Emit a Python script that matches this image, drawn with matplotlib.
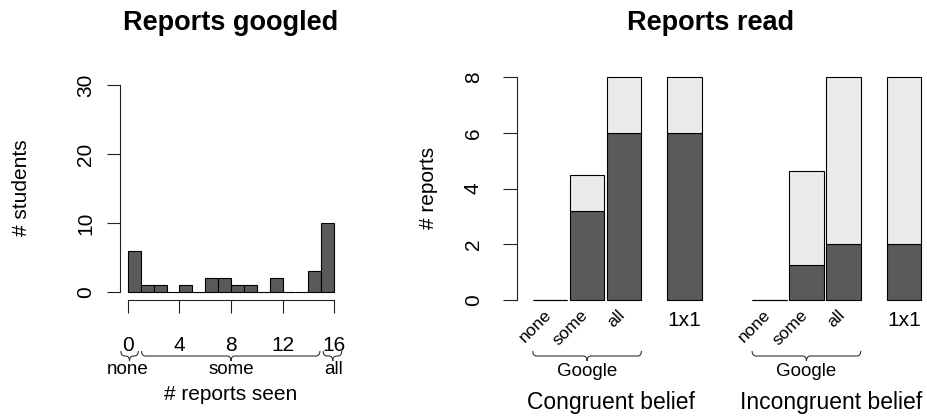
import matplotlib
matplotlib.use('Agg')
import matplotlib.pyplot as plt
from matplotlib.path import Path
from matplotlib.patches import PathPatch
from matplotlib.transforms import Affine2D
import numpy as np

plt.rcParams['font.family'] = ['Liberation Sans', 'DejaVu Sans']

W, H = 927, 416

# Reports googled: students per number of reports seen (bins of width 1)
bin_left = list(range(0, 16))
student_counts = [6, 1, 1, 0, 1, 0, 2, 2, 1, 1, 0, 2, 0, 0, 3, 10]
hist_ticks = [0, 4, 8, 12, 16]
hist_yticks = [0, 10, 20, 30]
seen_groups = ['none', 'some', 'all']
seen_group_at = [0, 8, 16]

# Reports read: dark part and full bar height
bar_labels = ['none', 'some', 'all', '1x1', 'none', 'some', 'all', '1x1']
read_dark = [0, 3.2, 6, 6, 0, 1.25, 2, 2]
read_total = [0, 4.5, 8, 8, 0, 4.62, 8, 8]
read_yticks = [0, 2, 4, 6, 8]
belief_groups = ['Congruent belief', 'Incongruent belief']

DARK = '#5a5a5a'
LIGHT = '#ebebeb'

fig = plt.figure(figsize=(W / 100, H / 100), dpi=100)
PX = Affine2D().scale(1, -1).translate(0, H)  # pixel coords, origin top-left


def add_axes_px(l, t, r, b):
    return fig.add_axes([l / W, 1 - b / H, (r - l) / W, (b - t) / H])


def brace(x0, x1, xtip, ytop, h, r=4):
    ym = ytop + h / 2
    yt = ytop + h
    verts = [(x0, ytop), (x0, ym), (x0 + r, ym), (xtip - r, ym),
             (xtip, ym), (xtip, yt), (xtip, ym), (xtip + r, ym),
             (x1 - r, ym), (x1, ym), (x1, ytop)]
    codes = [Path.MOVETO, Path.CURVE3, Path.CURVE3, Path.LINETO,
             Path.CURVE3, Path.CURVE3, Path.CURVE3, Path.CURVE3,
             Path.LINETO, Path.CURVE3, Path.CURVE3]
    fig.add_artist(PathPatch(Path(verts, codes), transform=PX, fill=False,
                             lw=0.8, edgecolor='#333333'))


def txt(x, y, s, **kw):
    fig.text(x, y, s, transform=PX, ha='center', va='center', **kw)


# ---------- left panel: histogram ----------
ax1 = add_axes_px(119.7, 76.7, 342.3, 300.3)
ax1.bar(bin_left, student_counts, width=1, align='edge', color=DARK,
        edgecolor='black', linewidth=0.8)
ax1.set_xlim(-0.64, 16.64)
ax1.set_ylim(-1.2, 31.2)
for s in ['top', 'right']:
    ax1.spines[s].set_visible(False)
ax1.spines['left'].set_bounds(0, 30)
ax1.spines['bottom'].set_bounds(0, 16)
for s in ['left', 'bottom']:
    ax1.spines[s].set_color('#222222')
    ax1.spines[s].set_linewidth(0.8)
ax1.set_yticks(hist_yticks)
ax1.set_yticklabels([str(v) for v in hist_yticks], rotation=90, va='center')
ax1.set_xticks(hist_ticks)
ax1.set_xticklabels([str(v) for v in hist_ticks])
ax1.tick_params(axis='y', direction='out', length=9.5, width=0.8,
                color='#222222', labelsize=15, pad=8)
ax1.tick_params(axis='x', direction='out', length=9.5, width=0.8,
                color='#222222', labelsize=15, pad=16)

tx = lambda ax, x: ax.transData.transform((x, 0))[0]
brace(tx(ax1, -0.55), tx(ax1, 0.8), tx(ax1, 0.12), 351, 10)
brace(tx(ax1, 1.05), tx(ax1, 14.9), tx(ax1, 8), 351, 10)
brace(tx(ax1, 15.15), tx(ax1, 16.6), tx(ax1, 15.9), 351, 10)
for name, at in zip(seen_groups, seen_group_at):
    txt(tx(ax1, at), 370, name, fontsize=13.5)
txt(231, 395, '# reports seen', fontsize=15)
txt(22, 188, '# students', fontsize=15, rotation=90)
txt(231, 23, 'Reports googled', fontsize=19.5, fontweight='bold')

# ---------- right panel: stacked bars ----------
spaces = [0.075, 0.075, 0.75, 1.46, 0.075, 0.075, 0.75]
centers = np.cumsum([0] + [1 + s for s in spaces])
ax2 = add_axes_px(517, 68, 927, 309)
ax2.bar(centers, read_dark, width=1, color=DARK, edgecolor='black',
        linewidth=0.8)
ax2.bar(centers, np.array(read_total) - np.array(read_dark), width=1,
        bottom=read_dark, color=LIGHT, edgecolor='black', linewidth=0.8)
ax2.set_xlim(centers[0] - 0.957, centers[0] + 10.93)
ax2.set_ylim(-0.32, 8.32)
for s in ['top', 'right', 'bottom']:
    ax2.spines[s].set_visible(False)
ax2.spines['left'].set_bounds(0, 8)
ax2.spines['left'].set_color('#222222')
ax2.spines['left'].set_linewidth(0.8)
ax2.set_xticks([])
ax2.set_yticks(read_yticks)
ax2.set_yticklabels([str(v) for v in read_yticks], rotation=90, va='center')
ax2.tick_params(axis='y', direction='out', length=10, width=0.8,
                color='#222222', labelsize=15, pad=14.5)

cx = [tx(ax2, c) for c in centers]
for i, lab in enumerate(bar_labels):
    if lab == '1x1':
        txt(cx[i], 320, lab, fontsize=15)
    else:
        fig.text(cx[i] + 4, 307, lab, transform=PX, ha='right', va='top',
                 rotation=45, fontsize=12.5)
half = tx(ax2, 0.5) - tx(ax2, 0)
for g, name in enumerate(belief_groups):
    idx = list(range(4 * g, 4 * g + 4))
    brace(cx[idx[0]] - half, cx[idx[2]] + half, cx[idx[1]], 351, 10)
    txt(cx[idx[1]], 371, 'Google', fontsize=13.5)
    txt(np.mean([cx[i] for i in idx]), 402, name, fontsize=16.5)
txt(428, 188, '# reports', fontsize=15, rotation=90)
txt(711, 23, 'Reports read', fontsize=19.5, fontweight='bold')

fig.savefig('out.png', dpi=100)
